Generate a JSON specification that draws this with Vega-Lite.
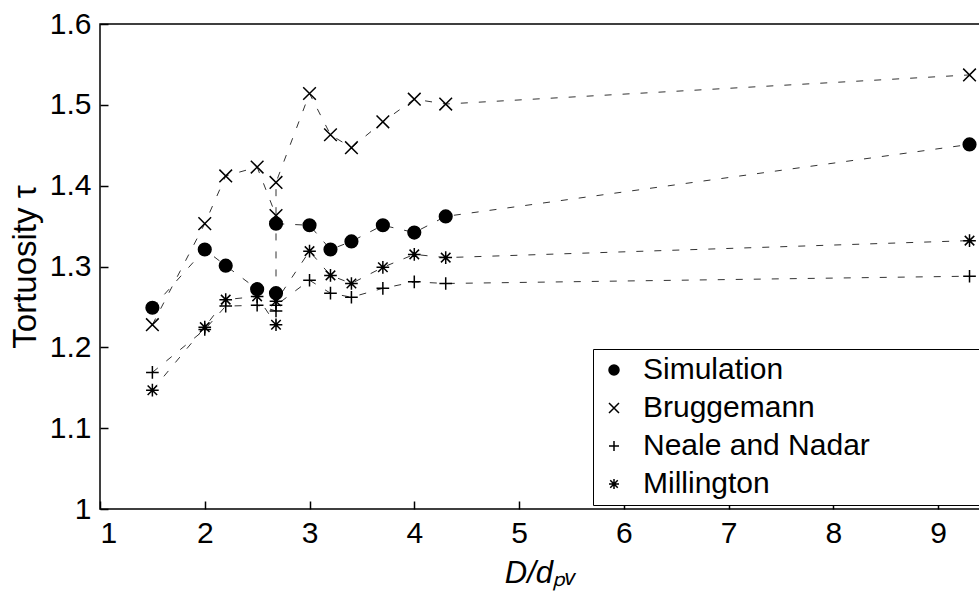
{
  "$schema": "https://vega.github.io/schema/vega-lite/v6.json",
  "width": 880,
  "height": 485,
  "autosize": "none",
  "padding": {"left": 100, "top": 24, "right": 0, "bottom": 86},
  "background": "white",
  "config": {
    "view": {"stroke": "black", "strokeWidth": 1.5},
    "font": "Liberation Sans",
    "axis": {
      "grid": false,
      "domain": false,
      "tickColor": "black",
      "tickWidth": 1.5,
      "tickSize": -8,
      "labelColor": "black",
      "labelFont": "Liberation Sans",
      "labelFontSize": 30,
      "labelPadding": 17,
      "titleColor": "black",
      "titleFont": "Liberation Sans",
      "titleFontSize": 31,
      "titleFontWeight": "normal"
    }
  },
  "data": {
    "values": [
      {"series": "Simulation", "x": 1.5, "tau": 1.249, "i": 0},
      {"series": "Simulation", "x": 2.0, "tau": 1.321, "i": 1},
      {"series": "Simulation", "x": 2.2, "tau": 1.301, "i": 2},
      {"series": "Simulation", "x": 2.5, "tau": 1.272, "i": 3},
      {"series": "Simulation", "x": 2.68, "tau": 1.267, "i": 4},
      {"series": "Simulation", "x": 2.68, "tau": 1.353, "i": 5},
      {"series": "Simulation", "x": 3.0, "tau": 1.351, "i": 6},
      {"series": "Simulation", "x": 3.2, "tau": 1.321, "i": 7},
      {"series": "Simulation", "x": 3.4, "tau": 1.331, "i": 8},
      {"series": "Simulation", "x": 3.7, "tau": 1.351, "i": 9},
      {"series": "Simulation", "x": 4.0, "tau": 1.342, "i": 10},
      {"series": "Simulation", "x": 4.3, "tau": 1.362, "i": 11},
      {"series": "Simulation", "x": 9.3, "tau": 1.451, "i": 12},
      {"series": "Bruggemann", "x": 1.5, "tau": 1.228, "i": 0},
      {"series": "Bruggemann", "x": 2.0, "tau": 1.353, "i": 1},
      {"series": "Bruggemann", "x": 2.2, "tau": 1.412, "i": 2},
      {"series": "Bruggemann", "x": 2.5, "tau": 1.423, "i": 3},
      {"series": "Bruggemann", "x": 2.68, "tau": 1.363, "i": 4},
      {"series": "Bruggemann", "x": 2.68, "tau": 1.404, "i": 5},
      {"series": "Bruggemann", "x": 3.0, "tau": 1.514, "i": 6},
      {"series": "Bruggemann", "x": 3.2, "tau": 1.463, "i": 7},
      {"series": "Bruggemann", "x": 3.4, "tau": 1.447, "i": 8},
      {"series": "Bruggemann", "x": 3.7, "tau": 1.479, "i": 9},
      {"series": "Bruggemann", "x": 4.0, "tau": 1.507, "i": 10},
      {"series": "Bruggemann", "x": 4.3, "tau": 1.501, "i": 11},
      {"series": "Bruggemann", "x": 9.3, "tau": 1.537, "i": 12},
      {"series": "Neale and Nadar", "x": 1.5, "tau": 1.169, "i": 0},
      {"series": "Neale and Nadar", "x": 2.0, "tau": 1.222, "i": 1},
      {"series": "Neale and Nadar", "x": 2.2, "tau": 1.251, "i": 2},
      {"series": "Neale and Nadar", "x": 2.5, "tau": 1.252, "i": 3},
      {"series": "Neale and Nadar", "x": 2.68, "tau": 1.245, "i": 4},
      {"series": "Neale and Nadar", "x": 2.68, "tau": 1.252, "i": 5},
      {"series": "Neale and Nadar", "x": 3.0, "tau": 1.283, "i": 6},
      {"series": "Neale and Nadar", "x": 3.2, "tau": 1.267, "i": 7},
      {"series": "Neale and Nadar", "x": 3.4, "tau": 1.262, "i": 8},
      {"series": "Neale and Nadar", "x": 3.7, "tau": 1.273, "i": 9},
      {"series": "Neale and Nadar", "x": 4.0, "tau": 1.281, "i": 10},
      {"series": "Neale and Nadar", "x": 4.3, "tau": 1.279, "i": 11},
      {"series": "Neale and Nadar", "x": 9.3, "tau": 1.288, "i": 12},
      {"series": "Millington", "x": 1.5, "tau": 1.147, "i": 0},
      {"series": "Millington", "x": 2.0, "tau": 1.225, "i": 1},
      {"series": "Millington", "x": 2.2, "tau": 1.259, "i": 2},
      {"series": "Millington", "x": 2.5, "tau": 1.263, "i": 3},
      {"series": "Millington", "x": 2.68, "tau": 1.228, "i": 4},
      {"series": "Millington", "x": 2.68, "tau": 1.257, "i": 5},
      {"series": "Millington", "x": 3.0, "tau": 1.319, "i": 6},
      {"series": "Millington", "x": 3.2, "tau": 1.289, "i": 7},
      {"series": "Millington", "x": 3.4, "tau": 1.279, "i": 8},
      {"series": "Millington", "x": 3.7, "tau": 1.299, "i": 9},
      {"series": "Millington", "x": 4.0, "tau": 1.315, "i": 10},
      {"series": "Millington", "x": 4.3, "tau": 1.311, "i": 11},
      {"series": "Millington", "x": 9.3, "tau": 1.332, "i": 12}
    ]
  },
  "encoding": {
    "x": {
      "field": "x",
      "type": "quantitative",
      "scale": {"domain": [1, 9.4], "nice": false, "zero": false},
      "axis": {"values": [1, 2, 3, 4, 5, 6, 7, 8, 9], "format": "d", "title": "D/dₚᵥ", "titleFontStyle": "italic", "titlePadding": 10}
    },
    "y": {
      "field": "tau",
      "type": "quantitative",
      "scale": {"domain": [1, 1.6], "nice": false, "zero": false},
      "axis": {"values": [1, 1.1, 1.2, 1.3, 1.4, 1.5, 1.6], "format": "~g", "title": "Tortuosity τ", "titleFontSize": 33, "titlePadding": 7}
    }
  },
  "layer": [
    {
      "mark": {"type": "line", "stroke": "#333333", "strokeWidth": 1, "strokeDash": [7, 11]},
      "encoding": {
        "detail": {"field": "series", "type": "nominal"},
        "order": {"field": "i", "type": "quantitative"}
      }
    },
    {
      "mark": {"type": "point", "filled": false, "stroke": "black", "strokeWidth": 1.5, "size": 160, "opacity": 1},
      "encoding": {
        "fill": {
          "field": "series",
          "type": "nominal",
          "scale": {
            "domain": ["Simulation", "Bruggemann", "Neale and Nadar", "Millington"],
            "range": ["black", "transparent", "transparent", "transparent"]
          },
          "legend": {
            "orient": "none",
            "legendX": 493,
            "legendY": 325,
            "title": " ",
            "titleOrient": "right",
            "titlePadding": 116,
            "titleFontSize": 10,
            "labelOffset": 14,
            "labelFont": "Liberation Sans",
            "labelFontSize": 30,
            "labelColor": "black",
            "labelLimit": 500,
            "symbolSize": 100,
            "symbolStrokeWidth": 1.5,
            "strokeColor": "black",
            "fillColor": "white",
            "padding": 6,
            "rowPadding": 8
          }
        },
        "shape": {
          "field": "series",
          "type": "nominal",
          "scale": {
            "domain": ["Simulation", "Bruggemann", "Neale and Nadar", "Millington"],
            "range": ["circle", "M-1,-1L1,1M-1,1L1,-1", "M-1,0L1,0M0,-1L0,1", "M-1,0L1,0M0,-1L0,1M-0.75,-0.75L0.75,0.75M-0.75,0.75L0.75,-0.75"]
          },
          "legend": {
            "orient": "none",
            "legendX": 493,
            "legendY": 325,
            "title": " ",
            "titleOrient": "right",
            "titlePadding": 116,
            "titleFontSize": 10,
            "labelOffset": 14,
            "labelFont": "Liberation Sans",
            "labelFontSize": 30,
            "labelColor": "black",
            "labelLimit": 500,
            "symbolSize": 100,
            "symbolStrokeWidth": 1.5,
            "strokeColor": "black",
            "fillColor": "white",
            "padding": 6,
            "rowPadding": 8
          }
        }
      }
    }
  ]
}
